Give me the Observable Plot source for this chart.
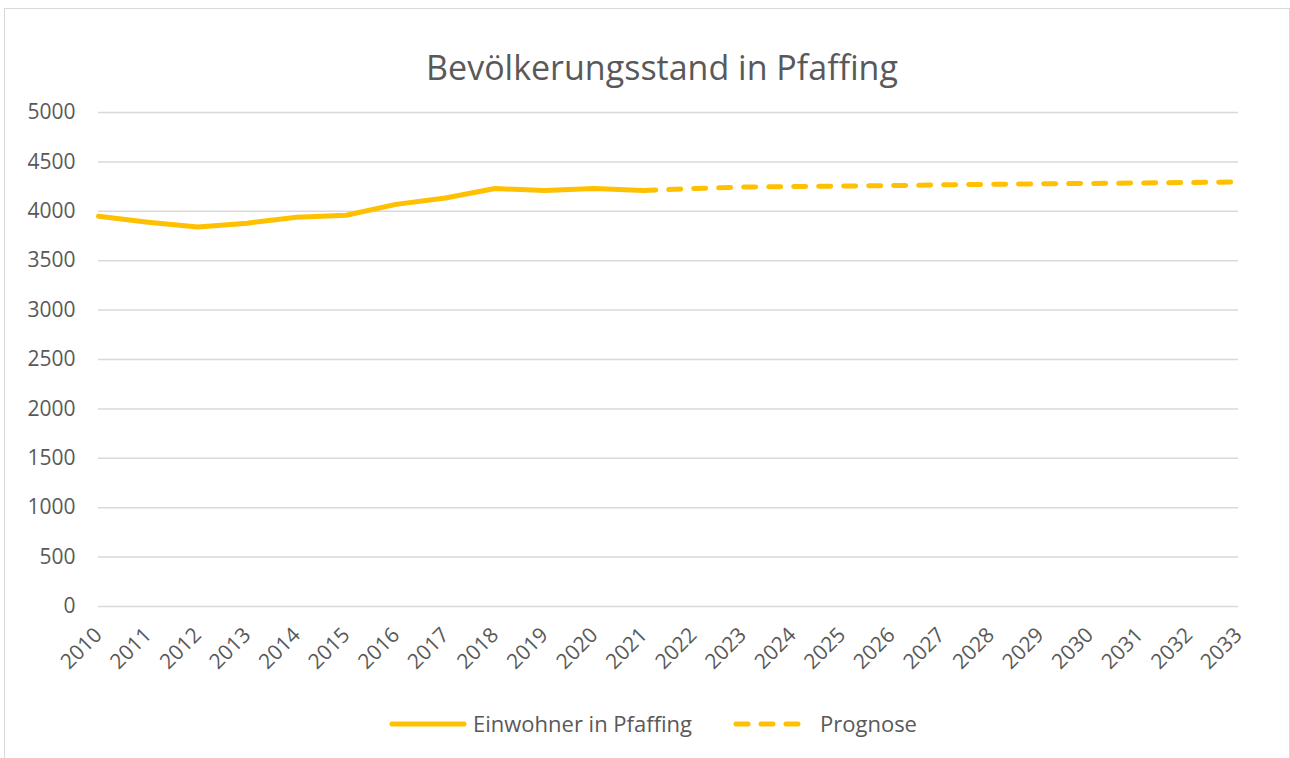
<!DOCTYPE html>
<html>
<head>
<meta charset="utf-8">
<script src="https://cdn.jsdelivr.net/npm/d3@7"></script>
<script src="https://cdn.jsdelivr.net/npm/@observablehq/plot@0.6"></script>
<style>
  html, body { margin: 0; padding: 0; background: #fff; }
  body { width: 1290px; height: 758px; position: relative; overflow: hidden; font-family: "Open Sans", Lato, sans-serif; }
  #frame { position: absolute; left: 4px; top: 8px; width: 1286px; height: 760px; border: 1.5px solid #d9d9d9; box-sizing: border-box; }
  #title { position: absolute; left: 0; width: 1324px; top: 44px; text-align: center; font-size: 34px; color: #595959; }
  #chart { position: absolute; left: 0; top: 0; }
  #legend { position: absolute; top: 710px; left: 389px; height: 28px; font-size: 22px; color: #595959; }
  #legend svg { position: absolute; top: 0; }
  #legend span { position: absolute; top: -2px; white-space: nowrap; }
</style>
</head>
<body>
<div id="frame"></div>
<div id="chart"></div>
<div id="title">Bevölkerungsstand in Pfaffing</div>
<div id="legend">
  <svg width="80" height="28" style="left:0"><line x1="3" y1="14" x2="75" y2="14" stroke="#FFC000" stroke-width="5" stroke-linecap="round"/></svg>
  <span style="left:84px">Einwohner in Pfaffing</span>
  <svg width="80" height="28" style="left:344px"><line x1="3" y1="14" x2="73" y2="14" stroke="#FFC000" stroke-width="5" stroke-linecap="round" stroke-dasharray="12,13"/></svg>
  <span style="left:431px">Prognose</span>
</div>
<script>
const years = d3.range(2010, 2034);
const yTicks = [0, 500, 1000, 1500, 2000, 2500, 3000, 3500, 4000, 4500, 5000];

const histYears = [2010, 2011, 2012, 2013, 2014, 2015, 2016, 2017, 2018, 2019, 2020, 2021];
const einwohner = [3950, 3890, 3840, 3880, 3940, 3960, 4070, 4135, 4230, 4210, 4230, 4210];

const progYears = [2021, 2022, 2023, 2024, 2025, 2026, 2027, 2028, 2029, 2030, 2031, 2032, 2033];
const prognose = [4210, 4230, 4245, 4250, 4255, 4260, 4268, 4273, 4278, 4282, 4287, 4291, 4297];

const hist = histYears.map((y, i) => ({year: y, value: einwohner[i]}));
const prog = progYears.map((y, i) => ({year: y, value: prognose[i]}));

const chart = Plot.plot({
  width: 1290,
  height: 758,
  marginLeft: 98,
  marginRight: 52,
  marginTop: 112,
  marginBottom: 152,
  style: {fontFamily: "'Open Sans', Lato, sans-serif", fontSize: "21px", color: "#595959", background: "transparent"},
  x: {domain: [2010, 2033], type: "linear"},
  y: {domain: [0, 5000]},
  marks: [
    Plot.gridY(yTicks, {stroke: "#d9d9d9", strokeOpacity: 1, strokeWidth: 1.5}),
    Plot.axisY(yTicks, {tickSize: 0, tickPadding: 23, fontSize: 21, fill: "#595959", label: null, tickFormat: d => String(d)}),
    Plot.axisX(years, {tickSize: 0, tickPadding: 25, tickRotate: -45, tickFormat: d => String(d), fontSize: 21, fill: "#595959", label: null}),
    Plot.line(hist, {x: "year", y: "value", stroke: "#FFC000", strokeWidth: 5, strokeLinejoin: "round"}),
    Plot.line(prog, {x: "year", y: "value", stroke: "#FFC000", strokeWidth: 5, strokeLinecap: "round", strokeDasharray: "12,13"})
  ]
});
document.getElementById("chart").appendChild(chart);
</script>
</body>
</html>
